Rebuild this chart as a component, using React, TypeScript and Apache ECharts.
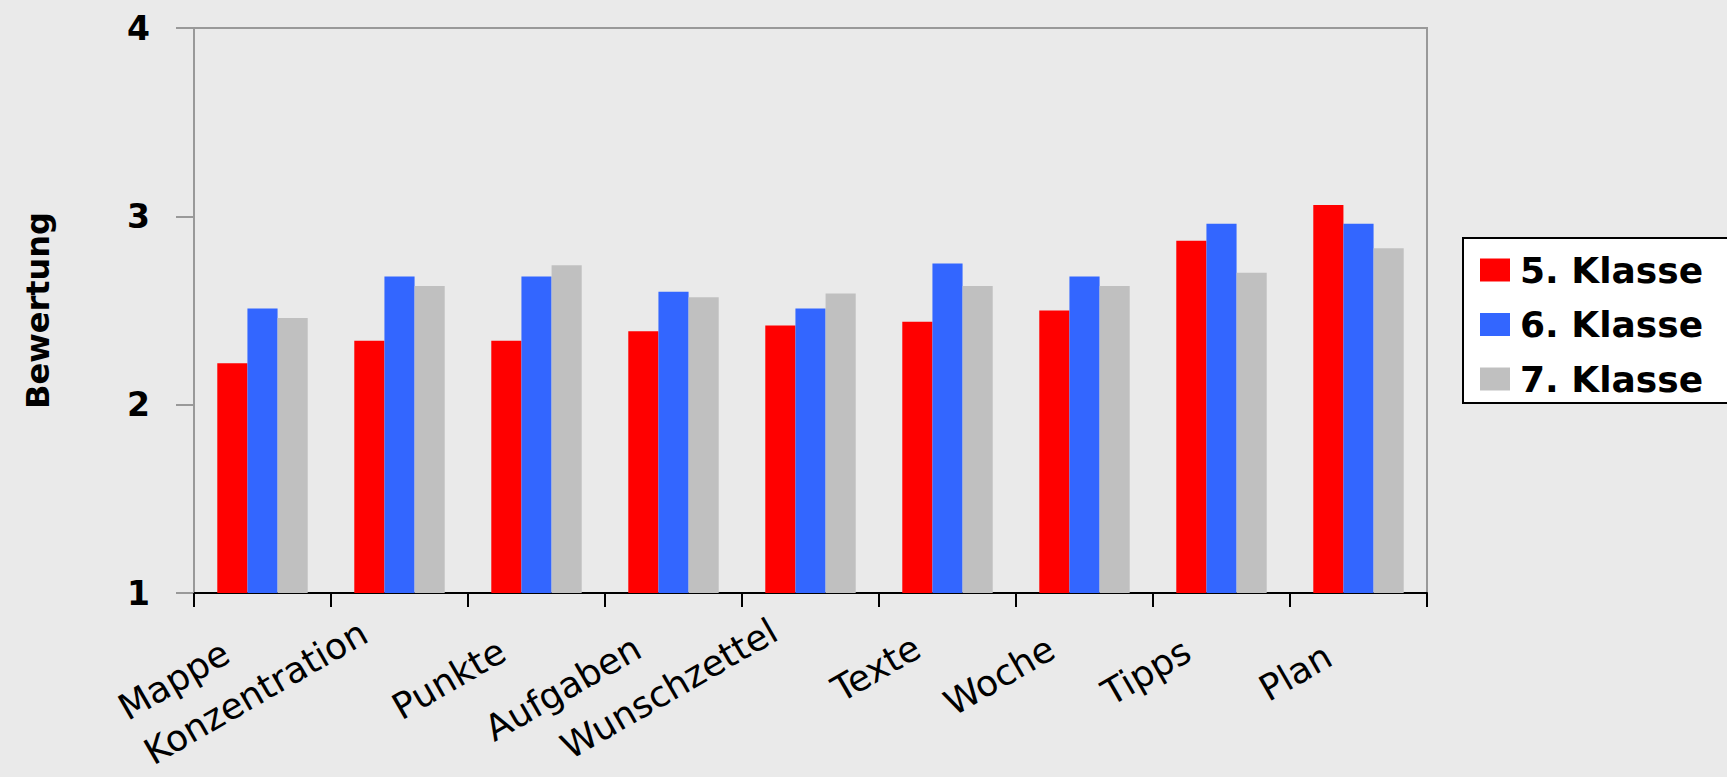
import React, { useEffect, useRef } from "react";
import * as echarts from "echarts";

const categories = ["Mappe", "Konzentration", "Punkte", "Aufgaben", "Wunschzettel", "Texte", "Woche", "Tipps", "Plan"];
const klasse5 = [2.22, 2.34, 2.34, 2.39, 2.42, 2.44, 2.5, 2.87, 3.06];
const klasse6 = [2.51, 2.68, 2.68, 2.6, 2.51, 2.75, 2.68, 2.96, 2.96];
const klasse7 = [2.46, 2.63, 2.74, 2.57, 2.59, 2.63, 2.63, 2.7, 2.83];
const seriesNames = ["5. Klasse", "6. Klasse", "7. Klasse"];
const seriesColors = ["#ff0000", "#3366ff", "#c0c0c0"];
const yMin = 1;
const yMax = 4;
const yInterval = 1;
const yTitle = "Bewertung";

// label paddings [top, right, bottom, left] used to stagger the rotated category labels
const labelPadding: number[][] = [
  [38, 53, 0, 0],
  [4, 42, 0, 0],
  [37, 50, 0, 0],
  [30, 50, 0, 0],
  [0, 42, 0, 0],
  [35, 45, 0, 0],
  [34, 48, 0, 0],
  [37, 50, 0, 0],
  [50, 49, 0, 0],
];

export default function App() {
  const ref = useRef<HTMLDivElement>(null);
  useEffect(() => {
    if (!ref.current) return;
    const chart = echarts.init(ref.current, undefined, { renderer: "svg" });
    const values = [klasse5, klasse6, klasse7];
    const rich: Record<string, any> = {};
    labelPadding.forEach((p, i) => {
      rich["l" + i] = {
        fontFamily: "DejaVu Sans",
        fontSize: 36,
        color: "#000000",
        padding: p,
      };
    });
    chart.setOption({
      animation: false,
      backgroundColor: "#eaeaea",
      grid: {
        left: 194,
        right: 300,
        top: 28,
        bottom: 184,
        containLabel: false,
        outerBoundsMode: "none",
        show: true,
        borderColor: "#999999",
        borderWidth: 2,
        backgroundColor: "transparent",
      },
      legend: {
        orient: "vertical",
        left: 1463,
        top: 238,
        padding: [14, 40, 6, 17],
        itemWidth: 30,
        itemHeight: 23,
        itemGap: 18.5,
        icon: "rect",
        backgroundColor: "#ffffff",
        borderColor: "#000000",
        borderWidth: 2,
        borderRadius: 0,
        textStyle: {
          fontFamily: "DejaVu Sans",
          fontWeight: "bold",
          fontSize: 36,
          color: "#000000",
          padding: [0, 0, 0, 5],
        },
        data: seriesNames,
      },
      xAxis: {
        type: "category",
        data: categories,
        axisLine: { lineStyle: { color: "#000000", width: 2 } },
        axisTick: { show: true, length: 14, lineStyle: { color: "#000000", width: 2 } },
        axisLabel: {
          interval: 0,
          rotate: 30,
          margin: 14,
          fontFamily: "DejaVu Sans",
          fontSize: 36,
          color: "#000000",
          formatter: (value: string, index: number) => "{l" + index + "|" + value + "}",
          rich,
        },
        splitLine: { show: false },
      },
      yAxis: {
        type: "value",
        min: yMin,
        max: yMax,
        interval: yInterval,
        name: yTitle,
        nameLocation: "middle",
        nameRotate: 90,
        nameGap: 140,
        nameTextStyle: {
          fontFamily: "DejaVu Sans",
          fontWeight: "bold",
          fontSize: 32,
          color: "#000000",
        },
        axisLine: { show: true, lineStyle: { color: "#999999", width: 2 } },
        axisTick: { show: true, length: 18, lineStyle: { color: "#999999", width: 2 } },
        axisLabel: {
          margin: 44,
          fontFamily: "DejaVu Sans",
          fontWeight: "bold",
          fontSize: 33,
          color: "#000000",
        },
        splitLine: { show: false },
      },
      series: seriesNames.map((name, i) => ({
        name,
        type: "bar",
        data: values[i],
        barGap: "0%",
        barCategoryGap: "34%",
        itemStyle: { color: seriesColors[i] },
      })),
    });
    return () => chart.dispose();
  }, []);
  return (
    <div
      ref={ref}
      style={{ position: "fixed", left: 0, top: 0, width: 1727, height: 777, background: "#eaeaea" }}
    />
  );
}
